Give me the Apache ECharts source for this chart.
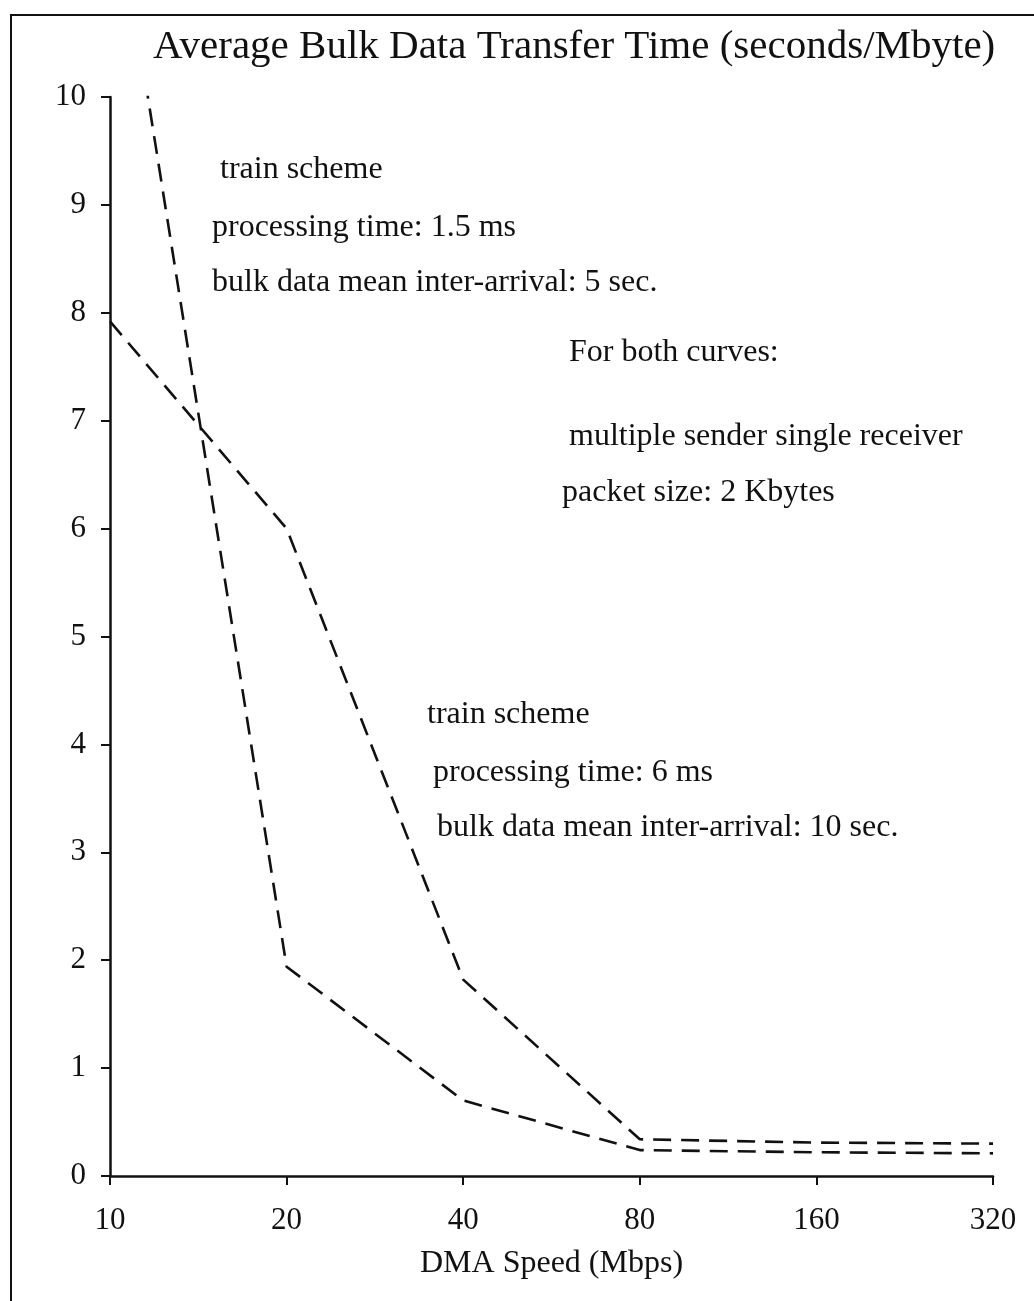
<!DOCTYPE html>
<html>
<head>
<meta charset="utf-8">
<script src="https://cdn.jsdelivr.net/npm/echarts@6/dist/echarts.min.js"></script>
<style>
  html, body { margin: 0; padding: 0; background: #fff; }
  #chart { width: 1034px; height: 1301px; }
</style>
</head>
<body>
<div id="chart"></div>
<script>
// DMA speed (Mbps), log2 steps
var speeds = ["10", "20", "40", "80", "160", "320"];
// train scheme, processing 1.5 ms, inter-arrival 5 sec (first point is off the top)
var fastProc = [12.2, 1.94, 0.70, 0.24, 0.22, 0.21];
// train scheme, processing 6 ms, inter-arrival 10 sec
var slowProc = [7.92, 6.0, 1.82, 0.34, 0.31, 0.30];
var yTicks = [0, 10, 1];

var serif = "Liberation Serif";

var chart = echarts.init(document.getElementById("chart"));

function note(text, x, y) {
  return {
    type: "text",
    x: x,
    y: y,
    style: {
      text: text,
      font: "32px '" + serif + "'",
      fill: "#111",
      textVerticalAlign: "middle"
    }
  };
}

var dash = { color: "#111", width: 2.6, type: [18, 10] };

var option = {
  backgroundColor: "#fff",
  animation: false,
  title: {
    text: "Average Bulk Data Transfer Time (seconds/Mbyte)",
    left: 148,
    top: 22,
    textStyle: { fontFamily: serif, fontSize: 41, fontWeight: "normal", color: "#111" }
  },
  grid: { left: 110, right: 41, top: 97, bottom: 125 },
  xAxis: {
    type: "category",
    data: speeds,
    boundaryGap: false,
    name: "DMA Speed (Mbps)",
    nameLocation: "middle",
    nameGap: 72,
    nameTextStyle: { fontFamily: serif, fontSize: 32, color: "#111" },
    axisLine: { lineStyle: { color: "#111", width: 2.5 } },
    axisTick: { length: 9, lineStyle: { color: "#111", width: 2 } },
    axisLabel: { margin: 29, fontFamily: serif, fontSize: 31, color: "#111" },
    splitLine: { show: false }
  },
  yAxis: {
    type: "value",
    min: yTicks[0],
    max: yTicks[1],
    interval: yTicks[2],
    axisLine: { show: true, lineStyle: { color: "#111", width: 2.5 } },
    axisTick: { show: true, length: 9, lineStyle: { color: "#111", width: 2 } },
    axisLabel: { margin: 24, fontFamily: serif, fontSize: 31, color: "#111" },
    splitLine: { show: false }
  },
  series: [
    {
      name: "1.5 ms",
      type: "line",
      data: fastProc,
      clip: true,
      symbol: "none",
      lineStyle: dash
    },
    {
      name: "6 ms",
      type: "line",
      data: slowProc,
      clip: true,
      symbol: "none",
      lineStyle: dash
    }
  ],
  graphic: [
    // frame (right and bottom edges run off the page)
    {
      type: "rect",
      shape: { x: 11, y: 15, width: 1100, height: 1400 },
      style: { fill: null, stroke: "#111", lineWidth: 2 }
    },
    note("train scheme", 220, 170),
    note("processing time: 1.5 ms", 212, 228),
    note("bulk data mean inter-arrival: 5 sec.", 212, 283),
    note("For both curves:", 569, 353),
    note("multiple sender single receiver", 569, 437),
    note("packet size: 2 Kbytes", 562, 493),
    note("train scheme", 427, 715),
    note("processing time: 6 ms", 433, 773),
    note("bulk data mean inter-arrival: 10 sec.", 437, 828)
  ]
};

chart.setOption(option);
</script>
</body>
</html>
